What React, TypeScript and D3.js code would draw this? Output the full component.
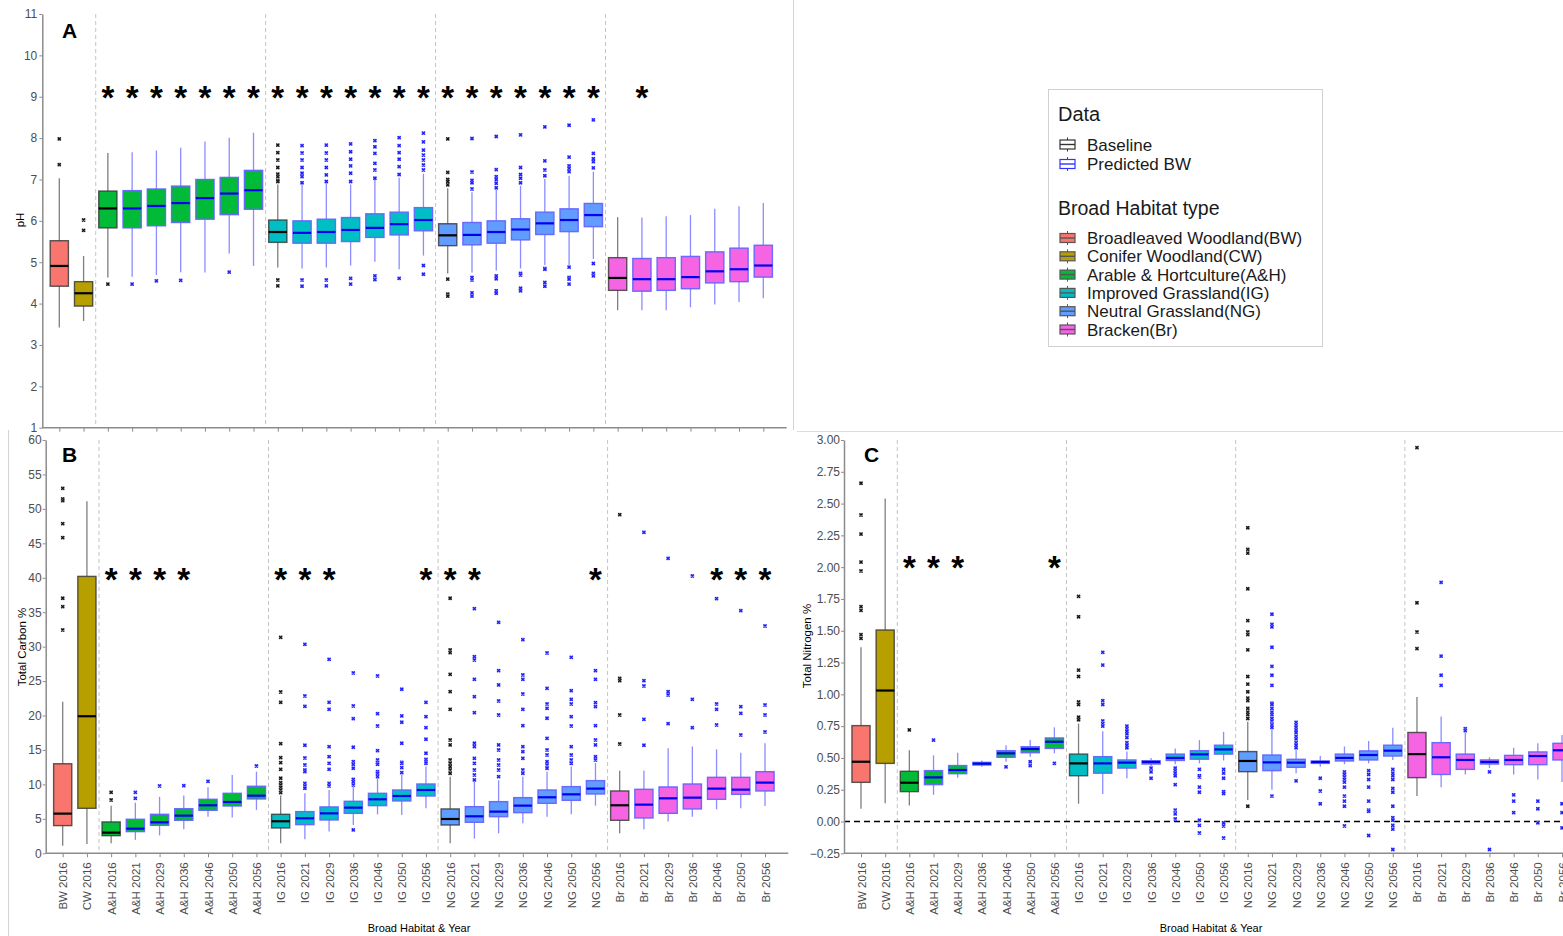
import React, { useEffect, useRef } from 'react';
import * as d3 from 'd3';

const categories = [
  'BW 2016', 'CW 2016',
  'A&H 2016', 'A&H 2021', 'A&H 2029', 'A&H 2036', 'A&H 2046', 'A&H 2050', 'A&H 2056',
  'IG 2016', 'IG 2021', 'IG 2029', 'IG 2036', 'IG 2046', 'IG 2050', 'IG 2056',
  'NG 2016', 'NG 2021', 'NG 2029', 'NG 2036', 'NG 2046', 'NG 2050', 'NG 2056',
  'Br 2016', 'Br 2021', 'Br 2029', 'Br 2036', 'Br 2046', 'Br 2050', 'Br 2056',
];

const habitats = ['BW', 'CW', 'A&H', 'IG', 'NG', 'Br'];
const habitatColors = ['#F8766D', '#B79F00', '#00BA38', '#00BFC4', '#619CFF', '#F564E3'];
const habitatNames = [
  'Broadleaved Woodland(BW)',
  'Conifer Woodland(CW)',
  'Arable & Hortculture(A&H)',
  'Improved Grassland(IG)',
  'Neutral Grassland(NG)',
  'Bracken(Br)',
];
const dataKeys = ['Baseline', 'Predicted BW'];

// ---- pH ----
const phQ3 = [5.52, 4.53, 6.72, 6.73, 6.77, 6.84, 7.0, 7.05, 7.22, 6.02, 6.0, 6.04, 6.08, 6.17, 6.21, 6.32, 5.93, 5.96, 6.0, 6.05, 6.21, 6.29, 6.42, 5.11, 5.09, 5.11, 5.14, 5.25, 5.34, 5.41];
const phMedian = [4.91, 4.25, 6.3, 6.3, 6.36, 6.43, 6.55, 6.66, 6.74, 5.73, 5.71, 5.73, 5.78, 5.83, 5.92, 6.02, 5.65, 5.66, 5.73, 5.79, 5.94, 6.02, 6.14, 4.62, 4.59, 4.59, 4.64, 4.78, 4.83, 4.92];
const phQ1 = [4.42, 3.94, 5.83, 5.83, 5.88, 5.96, 6.04, 6.15, 6.28, 5.48, 5.46, 5.46, 5.5, 5.6, 5.66, 5.76, 5.4, 5.42, 5.46, 5.54, 5.67, 5.74, 5.86, 4.32, 4.3, 4.32, 4.36, 4.5, 4.53, 4.64];
const phUpper = [7.03, 5.15, 7.64, 7.66, 7.7, 7.77, 7.92, 8.01, 8.13, 6.88, 6.87, 6.91, 6.88, 7.01, 7.04, 7.14, 6.79, 6.69, 6.75, 6.85, 7.01, 7.09, 7.19, 6.09, 6.08, 6.11, 6.14, 6.29, 6.35, 6.43];
const phLower = [3.42, 3.58, 4.63, 4.65, 4.69, 4.76, 4.75, 5.21, 4.91, 4.87, 4.85, 4.87, 4.92, 5.01, 4.83, 5.16, 4.73, 4.75, 4.8, 4.85, 4.93, 4.93, 5.08, 3.84, 3.84, 3.84, 3.91, 3.98, 4.04, 4.13];
const phOutliers = [
  [7.98, 7.36], [6.02, 5.77],
  [4.47], [4.47], [4.55], [4.56], [], [4.76], [],
  [7.83, 7.65, 7.47, 7.29, 7.13, 7.07, 6.98, 6.95, 4.57, 4.43],
  [7.82, 7.64, 7.47, 7.29, 7.15, 7.07, 6.92, 4.57, 4.42],
  [7.83, 7.64, 7.47, 7.29, 7.11, 6.95, 4.57, 4.43],
  [7.86, 7.67, 7.49, 7.33, 7.15, 6.95, 4.61, 4.47],
  [7.94, 7.79, 7.63, 7.39, 7.23, 7.03, 4.67, 4.58],
  [8.01, 7.82, 7.65, 7.49, 7.31, 7.12, 4.61],
  [8.12, 7.91, 7.71, 7.59, 7.47, 7.35, 7.23, 4.92, 4.71],
  [7.98, 7.17, 7.0, 6.95, 6.87, 4.59, 4.23, 4.18],
  [7.99, 7.18, 6.98, 6.92, 6.77, 4.63, 4.57, 4.26, 4.18],
  [8.04, 7.24, 7.07, 7.0, 6.91, 6.8, 4.67, 4.6, 4.31, 4.25],
  [8.08, 7.29, 7.12, 7.03, 6.92, 4.73, 4.69, 4.37, 4.31],
  [8.27, 7.45, 7.23, 7.09, 4.85, 4.83, 4.51, 4.42],
  [8.31, 7.54, 7.33, 7.27, 7.19, 4.88, 4.63, 4.59, 4.47],
  [8.44, 7.63, 7.5, 7.43, 7.28, 4.97, 4.73, 4.67],
  [], [], [], [], [], [], [],
];
const phStars = [
  'A&H 2016', 'A&H 2021', 'A&H 2029', 'A&H 2036', 'A&H 2046', 'A&H 2050', 'A&H 2056',
  'IG 2016', 'IG 2021', 'IG 2029', 'IG 2036', 'IG 2046', 'IG 2050', 'IG 2056',
  'NG 2016', 'NG 2021', 'NG 2029', 'NG 2036', 'NG 2046', 'NG 2050', 'NG 2056',
  'Br 2021',
];
const phStarLevel = 9.16;
const phTicks = [1, 2, 3, 4, 5, 6, 7, 8, 9, 10, 11];

// ---- Total Carbon % ----
const carbonQ3 = [13.0, 40.2, 4.55, 4.94, 5.66, 6.48, 7.84, 8.71, 9.73, 5.66, 6.05, 6.73, 7.55, 8.71, 9.19, 10.06, 6.44, 6.77, 7.5, 8.08, 9.19, 9.68, 10.55, 9.05, 9.29, 9.63, 10.06, 11.03, 11.03, 11.85];
const carbonMedian = [5.76, 19.9, 3.0, 3.58, 4.5, 5.47, 6.97, 7.45, 8.37, 4.65, 5.08, 5.8, 6.63, 7.84, 8.32, 9.19, 4.98, 5.37, 6.05, 6.92, 8.13, 8.56, 9.39, 6.97, 7.06, 7.98, 8.08, 9.39, 9.24, 10.26];
const carbonQ1 = [4.02, 6.53, 2.56, 3.15, 4.06, 4.79, 6.24, 6.87, 7.89, 3.68, 4.16, 4.84, 5.8, 6.92, 7.6, 8.32, 4.11, 4.5, 5.32, 5.9, 7.26, 7.69, 8.61, 4.79, 5.13, 5.8, 6.44, 7.84, 8.56, 9.05];
const carbonUpper = [22.0, 51.1, 6.92, 7.35, 8.2, 8.4, 9.6, 11.37, 11.85, 8.4, 8.7, 9.2, 9.7, 11.0, 11.4, 12.6, 11.1, 10.4, 10.6, 11.1, 11.85, 12.6, 13.1, 12.0, 12.0, 15.24, 15.5, 15.1, 14.6, 15.97];
const carbonLower = [1.1, 1.35, 1.45, 1.95, 2.6, 3.5, 5.3, 5.2, 6.3, 1.45, 2.03, 3.15, 4.1, 5.66, 5.56, 6.53, 1.45, 2.13, 2.9, 4.35, 5.32, 5.66, 6.92, 2.9, 3.48, 4.6, 5.32, 6.39, 6.53, 6.87];
const carbonOutliers = [
  [52.98, 51.43, 51.19, 47.85, 45.82, 37.02, 35.81, 32.42], [],
  [8.85, 7.74], [8.85, 7.98], [9.77], [9.82], [10.45], [], [12.68],
  [31.35, 23.42, 21.92, 15.92, 13.89, 13.16, 12.19, 10.89, 10.26, 9.92, 9.58, 9.19, 8.81],
  [30.34, 22.84, 21.34, 15.68, 13.84, 12.82, 12.1, 11.85, 10.16, 9.77, 9.44],
  [28.16, 21.92, 20.9, 15.48, 14.03, 13.06, 12.19, 10.16, 9.77],
  [26.18, 21.39, 19.55, 15.39, 13.31, 12.92, 12.34, 10.74, 10.4, 9.92, 3.39],
  [25.74, 20.27, 18.48, 14.9, 13.55, 13.16, 12.92, 11.85, 11.61, 11.13],
  [23.81, 19.94, 19.02, 15.97, 13.21, 13.06, 12.44, 11.71],
  [21.92, 19.84, 18.24, 16.55, 14.52, 13.64, 13.31, 13.06],
  [37.02, 29.52, 29.13, 25.98, 23.47, 20.9, 16.45, 15.73, 13.55, 13.06, 12.58, 12.1, 11.61],
  [35.52, 28.55, 28.06, 25.26, 22.74, 20.42, 15.97, 15.48, 13.79, 13.06, 12.1, 11.37, 10.65],
  [33.53, 26.52, 24.44, 22.11, 20.08, 15.73, 15.0, 13.55, 12.82, 12.1, 11.13],
  [31.02, 25.89, 25.26, 23.13, 20.9, 18.53, 15.48, 14.76, 13.79, 12.1, 11.61],
  [29.08, 23.95, 21.68, 21.05, 19.6, 16.69, 15.0, 14.27, 13.31, 12.82, 12.34],
  [28.45, 23.61, 22.35, 21.68, 19.84, 18.48, 15.48, 14.27, 13.55, 13.06],
  [26.52, 25.26, 21.87, 21.29, 18.53, 16.45, 15.73, 14.03, 13.55],
  [49.16, 25.4, 25.06, 20.08, 15.87],
  [46.6, 25.06, 24.29, 19.45, 15.68],
  [42.82, 23.47, 22.98, 18.82],
  [40.26, 22.35, 18.24],
  [36.97, 21.68, 20.9, 18.63],
  [35.23, 21.29, 20.32, 17.18],
  [33.0, 21.53, 20.08, 17.61],
];
const carbonStars = [
  'A&H 2016', 'A&H 2021', 'A&H 2029', 'A&H 2036',
  'IG 2016', 'IG 2021', 'IG 2029', 'IG 2056',
  'NG 2016', 'NG 2021', 'NG 2056',
  'Br 2046', 'Br 2050', 'Br 2056',
];
const carbonStarLevel = 40.9;
const carbonTicks = [0, 5, 10, 15, 20, 25, 30, 35, 40, 45, 50, 55, 60];

// ---- Total Nitrogen % ----
const nitrogenQ3 = [0.754, 1.506, 0.395, 0.4, 0.44, 0.465, 0.557, 0.588, 0.657, 0.53, 0.51, 0.484, 0.478, 0.53, 0.557, 0.6, 0.55, 0.523, 0.489, 0.476, 0.53, 0.555, 0.6, 0.7, 0.62, 0.53, 0.484, 0.52, 0.547, 0.615];
const nitrogenMedian = [0.47, 1.03, 0.305, 0.347, 0.405, 0.455, 0.536, 0.57, 0.627, 0.457, 0.457, 0.463, 0.468, 0.5, 0.528, 0.567, 0.476, 0.465, 0.463, 0.468, 0.5, 0.523, 0.557, 0.53, 0.505, 0.484, 0.468, 0.484, 0.515, 0.56];
const nitrogenQ1 = [0.308, 0.457, 0.235, 0.29, 0.376, 0.444, 0.505, 0.541, 0.575, 0.36, 0.38, 0.42, 0.452, 0.48, 0.49, 0.53, 0.392, 0.4, 0.426, 0.457, 0.476, 0.484, 0.515, 0.345, 0.37, 0.41, 0.452, 0.447, 0.447, 0.484];
const nitrogenUpper = [1.37, 2.54, 0.56, 0.52, 0.54, 0.48, 0.6, 0.64, 0.74, 0.77, 0.71, 0.55, 0.5, 0.575, 0.64, 0.705, 0.785, 0.82, 0.56, 0.515, 0.59, 0.633, 0.738, 0.98, 0.825, 0.7, 0.505, 0.58, 0.615, 0.68];
const nitrogenLower = [0.1, 0.143, 0.125, 0.21, 0.345, 0.43, 0.47, 0.51, 0.536, 0.14, 0.216, 0.34, 0.43, 0.45, 0.457, 0.48, 0.17, 0.25, 0.38, 0.43, 0.45, 0.457, 0.484, 0.2, 0.27, 0.37, 0.42, 0.37, 0.33, 0.31];
const nitrogenOutliers = [
  [2.66, 2.41, 2.26, 2.04, 1.97, 1.69, 1.66, 1.47, 1.44], [],
  [0.72], [0.64], [], [], [0.43], [0.47, 0.44], [0.457],
  [1.77, 1.61, 1.19, 1.14, 0.94, 0.92, 0.82, 0.8],
  [1.33, 1.23, 0.95, 0.92, 0.79, 0.77, 0.75],
  [0.75, 0.73, 0.71, 0.69, 0.66, 0.62, 0.6, 0.58],
  [0.42, 0.39, 0.34],
  [0.42, 0.4, 0.38, 0.36, 0.29, 0.09, 0.06, 0.02],
  [0.41, 0.36, 0.35, 0.27, 0.23, 0.01, -0.03, -0.09],
  [0.41, 0.38, 0.34, 0.235, 0.22, -0.01, -0.035, -0.13],
  [2.31, 2.14, 2.11, 1.83, 1.58, 1.49, 1.47, 1.35, 1.14, 1.08, 1.02, 0.97, 0.95, 0.89, 0.86, 0.84, 0.81, 0.12],
  [1.63, 1.55, 1.53, 1.37, 1.22, 1.15, 1.07, 0.93, 0.92, 0.89, 0.86, 0.84, 0.81, 0.79, 0.76, 0.74, 0.2],
  [0.78, 0.76, 0.74, 0.72, 0.7, 0.67, 0.65, 0.62, 0.6, 0.58, 0.32],
  [0.34, 0.24, 0.14],
  [0.39, 0.37, 0.35, 0.33, 0.31, 0.27, 0.2, 0.16, 0.12, -0.035],
  [0.4, 0.37, 0.33, 0.27, 0.16, 0.09, 0.08, -0.11],
  [0.41, 0.38, 0.36, 0.33, 0.26, 0.23, 0.12, 0.03, 0.01, -0.03, -0.06, -0.22],
  [2.94, 1.72, 1.49, 1.36],
  [1.88, 1.3, 1.15, 1.07],
  [0.73, 0.715],
  [0.39, -0.22],
  [0.21, 0.16, 0.07],
  [0.16, 0.1, -0.01],
  [0.14, 0.07, -0.05],
];
const nitrogenStars = ['A&H 2016', 'A&H 2021', 'A&H 2029', 'A&H 2056'];
const nitrogenStarLevel = 2.056;
const nitrogenTicks = [-0.25, 0, 0.25, 0.5, 0.75, 1, 1.25, 1.5, 1.75, 2, 2.25, 2.5, 2.75, 3];

const groupBreaks = [
  ['CW 2016', 'A&H 2016'],
  ['A&H 2056', 'IG 2016'],
  ['IG 2056', 'NG 2016'],
  ['NG 2056', 'Br 2016'],
];

const FONT = '"Liberation Sans", Arial, sans-serif';
const AXIS_GRAY = '#8c8c8c';

const colorScale = d3.scaleOrdinal<string, string>().domain(habitats).range(habitatColors);
const isBaseline = (c) => c.endsWith('2016');

const drawPanel = (svg, p) => {
  const x = d3.scalePoint<string>().domain(categories).range(p.xRange);
  const y = d3.scaleLinear().domain(p.yDomain).range(p.yRange);
  const boxW = x.step() * 0.75;
  const [yBottom, yTop] = p.yRange;
  const g = svg.append('g');

  // dashed separators between habitats
  groupBreaks.forEach(([a, b]) => {
    const sx = (x(a) + x(b)) / 2;
    g.append('line')
      .attr('x1', sx).attr('x2', sx)
      .attr('y1', yTop).attr('y2', yBottom)
      .attr('stroke', '#c4c4c4')
      .attr('stroke-dasharray', '4,3');
  });

  if (p.zeroLine) {
    g.append('line')
      .attr('x1', p.axisX).attr('x2', p.xEnd)
      .attr('y1', y(0)).attr('y2', y(0))
      .attr('stroke', 'black')
      .attr('stroke-width', 1.6)
      .attr('stroke-dasharray', '6,4');
  }

  categories.forEach((c, i) => {
    const cx = x(c);
    const base = isBaseline(c);
    const whisk = base ? '#7f7f7f' : '#8c8cff';
    g.append('line')
      .attr('x1', cx).attr('x2', cx)
      .attr('y1', y(p.upper[i])).attr('y2', y(p.q3[i]))
      .attr('stroke', whisk).attr('stroke-width', 1.3);
    g.append('line')
      .attr('x1', cx).attr('x2', cx)
      .attr('y1', y(p.q1[i])).attr('y2', y(p.lower[i]))
      .attr('stroke', whisk).attr('stroke-width', 1.3);

    g.append('rect')
      .attr('x', cx - boxW / 2)
      .attr('y', y(p.q3[i]))
      .attr('width', boxW)
      .attr('height', Math.max(1, y(p.q1[i]) - y(p.q3[i])))
      .attr('fill', colorScale(c.split(' ')[0]))
      .attr('stroke', base ? '#333333' : '#6464ff')
      .attr('stroke-opacity', base ? 0.8 : 0.95)
      .attr('stroke-width', 1.4);

    g.append('line')
      .attr('x1', cx - boxW / 2).attr('x2', cx + boxW / 2)
      .attr('y1', y(p.median[i])).attr('y2', y(p.median[i]))
      .attr('stroke', base ? '#000000' : '#0000ee')
      .attr('stroke-width', 2.2);

    p.outliers[i].forEach((v) => {
      const o = g.append('g').attr('transform', `translate(${cx},${y(v)})`);
      o.append('rect')
        .attr('x', -1.8).attr('y', -1.8).attr('width', 3.6).attr('height', 3.6)
        .attr('fill', base ? '#9a9a9a' : '#9a9aff');
      o.append('path')
        .attr('d', 'M-1.5,-1.5L1.5,1.5M-1.5,1.5L1.5,-1.5')
        .attr('stroke', base ? '#111111' : '#1a1aff')
        .attr('stroke-width', 1.2)
        .attr('fill', 'none');
    });
  });

  // significance stars
  p.stars.forEach((c) => {
    g.append('text')
      .attr('x', x(c))
      .attr('y', y(p.starLevel) + 19)
      .attr('text-anchor', 'middle')
      .attr('font-family', FONT)
      .attr('font-weight', 'bold')
      .attr('font-size', 33)
      .attr('fill', 'black')
      .text('*');
  });

  // y axis
  const yAxis = g.append('g')
    .attr('transform', `translate(${p.axisX},0)`)
    .call(d3.axisLeft(y).tickValues(p.yTicks).tickFormat(p.fmt).tickSize(3).tickSizeOuter(0).tickPadding(p.tickPad));
  yAxis.attr('font-family', FONT).attr('font-size', 12);
  yAxis.select('.domain').attr('stroke', AXIS_GRAY).attr('stroke-width', 1.5);
  yAxis.selectAll('.tick line').attr('stroke', AXIS_GRAY);
  yAxis.selectAll('.tick text').attr('fill', '#4d4d4d');

  // x axis
  const xAxis = g.append('g')
    .attr('transform', `translate(0,${yBottom})`)
    .call(d3.axisBottom(x).tickSize(4).tickSizeOuter(0).tickFormat(p.xLabels ? (d) => d : () => ''));
  xAxis.select('.domain').remove();
  xAxis.attr('font-family', FONT).attr('font-size', 11.5);
  xAxis.selectAll('.tick line').attr('stroke', AXIS_GRAY);
  if (p.xLabels) {
    xAxis.selectAll('.tick text')
      .attr('fill', '#4d4d4d')
      .attr('transform', 'rotate(-90)')
      .attr('text-anchor', 'end')
      .attr('x', -9)
      .attr('y', 0)
      .attr('dy', '0.35em');
  }
  g.append('line')
    .attr('x1', p.axisX).attr('x2', p.xEnd)
    .attr('y1', yBottom).attr('y2', yBottom)
    .attr('stroke', AXIS_GRAY).attr('stroke-width', 1.5);

  // titles
  g.append('text')
    .attr('x', p.letterPos[0]).attr('y', p.letterPos[1])
    .attr('font-family', FONT).attr('font-weight', 'bold').attr('font-size', 21)
    .text(p.letter);
  g.append('text')
    .attr('transform', `translate(${p.yTitlePos[0]},${p.yTitlePos[1]}) rotate(-90)`)
    .attr('text-anchor', 'middle')
    .attr('font-family', FONT).attr('font-size', 11.5)
    .text(p.yTitle);
  if (p.xTitle) {
    g.append('text')
      .attr('x', p.xTitlePos[0]).attr('y', p.xTitlePos[1])
      .attr('text-anchor', 'middle')
      .attr('font-family', FONT).attr('font-size', 11)
      .text(p.xTitle);
  }
};

const drawKey = (g, cx, cy, fill, edge, median) => {
  g.append('line').attr('x1', cx).attr('x2', cx).attr('y1', cy - 7).attr('y2', cy + 7).attr('stroke', edge).attr('stroke-width', 1);
  g.append('rect').attr('x', cx - 7.5).attr('y', cy - 4.5).attr('width', 15).attr('height', 9)
    .attr('fill', fill).attr('stroke', edge).attr('stroke-width', 1.2);
  g.append('line').attr('x1', cx - 7.5).attr('x2', cx + 7.5).attr('y1', cy).attr('y2', cy).attr('stroke', median).attr('stroke-width', 1.4);
};

const drawLegend = (svg) => {
  const g = svg.append('g').attr('font-family', FONT).attr('fill', '#1a1a1a');
  g.append('rect').attr('x', 1048.5).attr('y', 89.5).attr('width', 274).attr('height', 257)
    .attr('fill', 'white').attr('stroke', '#d0d0d0');
  g.append('text').attr('x', 1058).attr('y', 121).attr('font-size', 20).text('Data');
  const dataEdges = ['#333333', '#3333ff'];
  dataKeys.forEach((k, i) => {
    const by = 150.5 + i * 19.5;
    drawKey(g, 1067.5, by - 6, 'white', dataEdges[i], dataEdges[i]);
    g.append('text').attr('x', 1087).attr('y', by).attr('font-size', 17).text(k);
  });
  g.append('text').attr('x', 1058).attr('y', 214.5).attr('font-size', 19.5).text('Broad Habitat type');
  habitatNames.forEach((name, i) => {
    const by = 244 + i * 18.3;
    drawKey(g, 1067.5, by - 6, habitatColors[i], '#555555', '#555555');
    g.append('text').attr('x', 1087).attr('y', by).attr('font-size', 17).text(name);
  });
};

const App = () => {
  const ref = useRef<SVGSVGElement | null>(null);

  useEffect(() => {
    if (!ref.current) return;
    const svg = d3.select(ref.current);
    svg.selectAll('*').remove();
    svg.append('rect').attr('width', 1563).attr('height', 936).attr('fill', 'white');

    drawPanel(svg, {
      xRange: [59.3, 763.3], yDomain: [1, 11], yRange: [427.7, 14], axisX: 42.3, xEnd: 786.7,
      yTicks: phTicks, fmt: d3.format('d'), xLabels: false, tickPad: 2,
      q1: phQ1, median: phMedian, q3: phQ3, lower: phLower, upper: phUpper, outliers: phOutliers,
      stars: phStars, starLevel: phStarLevel,
      letter: 'A', letterPos: [62, 38], yTitle: 'pH', yTitlePos: [24, 220],
    });
    drawPanel(svg, {
      xRange: [62.7, 765], yDomain: [0, 60], yRange: [853.3, 440], axisX: 45.7, xEnd: 788.3,
      yTicks: carbonTicks, fmt: d3.format('d'), xLabels: true, tickPad: 1,
      q1: carbonQ1, median: carbonMedian, q3: carbonQ3, lower: carbonLower, upper: carbonUpper, outliers: carbonOutliers,
      stars: carbonStars, starLevel: carbonStarLevel,
      letter: 'B', letterPos: [62, 462], yTitle: 'Total Carbon %', yTitlePos: [26, 647],
      xTitle: 'Broad Habitat & Year', xTitlePos: [419, 932],
    });
    drawPanel(svg, {
      xRange: [861, 1562], yDomain: [-0.25, 3], yRange: [853.3, 440], axisX: 844, xEnd: 1563,
      yTicks: nitrogenTicks, fmt: d3.format('.2f'), xLabels: true, zeroLine: true, tickPad: 1,
      q1: nitrogenQ1, median: nitrogenMedian, q3: nitrogenQ3, lower: nitrogenLower, upper: nitrogenUpper, outliers: nitrogenOutliers,
      stars: nitrogenStars, starLevel: nitrogenStarLevel,
      letter: 'C', letterPos: [864, 462], yTitle: 'Total Nitrogen %', yTitlePos: [810.5, 646],
      xTitle: 'Broad Habitat & Year', xTitlePos: [1211, 932],
    });

    drawLegend(svg);

    // frame edges of the pasted panels
    svg.append('line').attr('x1', 793.5).attr('x2', 793.5).attr('y1', 0).attr('y2', 430).attr('stroke', '#d4d4d4');
    svg.append('line').attr('x1', 8.5).attr('x2', 8.5).attr('y1', 430).attr('y2', 936).attr('stroke', '#d4d4d4');
    svg.append('line').attr('x1', 797).attr('x2', 1563).attr('y1', 431.5).attr('y2', 431.5).attr('stroke', '#dcdcdc');
  }, []);

  return <svg ref={ref} width={1563} height={936} style={{ position: 'absolute', left: 0, top: 0, display: 'block' }} />;
};

export default App;
